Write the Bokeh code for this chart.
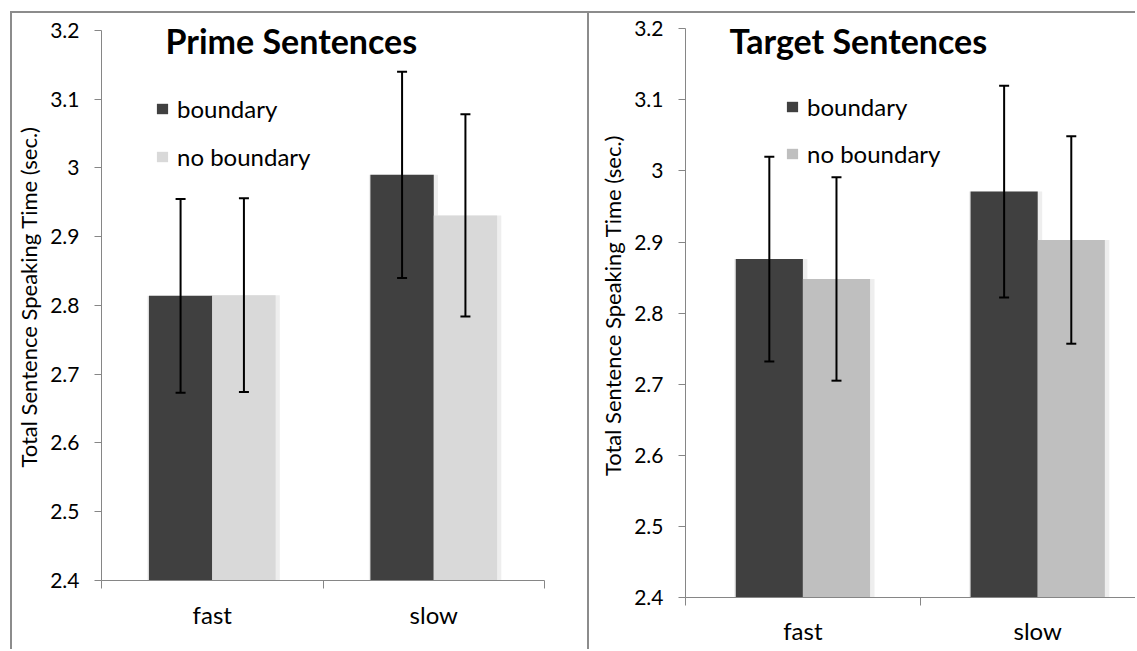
from bokeh.plotting import figure
from bokeh.layouts import row
from bokeh.models import (Range1d, FixedTicker, Whisker, TeeHead, ColumnDataSource,
                          Legend, LegendItem, Label)
from bokeh.embed import file_html
from bokeh.resources import INLINE

# ---------------- data ----------------
categories = ["fast", "slow"]
series = ["boundary", "no boundary"]

prime_boundary = [2.814, 2.990]
prime_boundary_err = [0.141, 0.150]
prime_noboundary = [2.815, 2.931]
prime_noboundary_err = [0.141, 0.147]

target_boundary = [2.876, 2.971]
target_boundary_err = [0.144, 0.149]
target_noboundary = [2.848, 2.903]
target_noboundary_err = [0.143, 0.146]

y_ticks = [2.4, 2.5, 2.6, 2.7, 2.8, 2.9, 3.0, 3.1, 3.2]
y_tick_labels = ["2.4", "2.5", "2.6", "2.7", "2.8", "2.9", "3", "3.1", "3.2"]

titles = ["Prime Sentences", "Target Sentences"]
y_label = "Total Sentence Speaking Time (sec.)"

# ---------------- style ----------------
FONT = "Lato"
DARK = "#404040"
AXIS = "#868686"
FRAME = "#8c8c8c"
BAR_W = 0.286
OFF = 0.143
Y_MIN, Y_MAX = 2.4, 3.2


def panel(title, b_vals, b_err, n_vals, n_err, light, width, height, margin,
          mb_left, mb_right, mb_bottom, x_end, y_end, minor, leg_loc, leg_sp,
          title_xy, tick_standoff):
    # frame reaches a little above 3.2 so the title is not clipped;
    # the axis itself is bounded to 2.4 - 3.2
    p = figure(width=width, height=height, x_range=Range1d(0, x_end),
               y_range=Range1d(Y_MIN, y_end), output_backend="svg",
               toolbar_location=None, min_border_left=mb_left,
               min_border_right=mb_right, min_border_top=0,
               min_border_bottom=mb_bottom, outline_line_color=None,
               background_fill_color="white", border_fill_color="white",
               margin=margin, frame_align=False,
               styles={"border-top": f"2px solid {FRAME}",
                       "border-left": f"2px solid {FRAME}",
                       "box-sizing": "border-box"})
    p.xgrid.visible = False
    p.ygrid.visible = False

    xc = [i + 0.5 for i in range(len(categories))]
    xb = [x - OFF for x in xc]
    xn = [x + OFF for x in xc]

    src_b = ColumnDataSource(dict(x=xb, top=b_vals,
                                  upper=[v + e for v, e in zip(b_vals, b_err)],
                                  lower=[v - e for v, e in zip(b_vals, b_err)],
                                  xs=[x + 0.006 for x in xb]))
    src_n = ColumnDataSource(dict(x=xn, top=n_vals,
                                  upper=[v + e for v, e in zip(n_vals, n_err)],
                                  lower=[v - e for v, e in zip(n_vals, n_err)],
                                  xs=[x + 0.006 for x in xn]))

    # soft shadows behind the bars
    p.vbar(x="xs", top="top", bottom=2.3, width=BAR_W + 0.026, source=src_b,
           fill_color="#eeeeee", line_color=None)
    p.vbar(x="xs", top="top", bottom=2.3, width=BAR_W + 0.026, source=src_n,
           fill_color="#eeeeee", line_color=None)

    rb = p.vbar(x="x", top="top", bottom=2.3, width=BAR_W, source=src_b,
                fill_color=DARK, line_color=None)
    rn = p.vbar(x="x", top="top", bottom=2.3, width=BAR_W, source=src_n,
                fill_color=light, line_color=None)

    for src in (src_b, src_n):
        w = Whisker(base="x", upper="upper", lower="lower", source=src,
                    line_color="black", line_width=2, level="overlay",
                    upper_head=TeeHead(size=10, line_width=2, line_color="black"),
                    lower_head=TeeHead(size=10, line_width=2, line_color="black"))
        p.add_layout(w)

    # y axis
    yax = p.yaxis[0]
    yax.bounds = (Y_MIN, Y_MAX)
    yax.ticker = FixedTicker(ticks=y_ticks)
    yax.major_label_overrides = dict(zip(y_ticks, y_tick_labels))
    yax.axis_line_color = AXIS
    yax.major_tick_line_color = AXIS
    yax.minor_tick_line_color = None
    yax.major_tick_out = 7
    yax.major_tick_in = 0
    yax.major_label_standoff = 15
    yax.major_label_text_font = FONT
    yax.major_label_text_font_size = "21px"
    yax.major_label_text_color = "black"
    yax.axis_label = y_label
    yax.axis_label_text_font = FONT
    yax.axis_label_text_font_size = "22px"
    yax.axis_label_text_font_style = "normal"
    yax.axis_label_text_color = "black"
    yax.axis_label_standoff = 5

    # x axis: labels at category centres, ticks at category borders
    xax = p.xaxis[0]
    xax.ticker = FixedTicker(ticks=xc, minor_ticks=minor)
    xax.major_label_overrides = dict(zip(xc, categories))
    xax.axis_line_color = AXIS
    xax.major_tick_line_color = None
    xax.major_tick_out = 0
    xax.major_tick_in = 0
    xax.minor_tick_line_color = AXIS
    xax.minor_tick_out = 8
    xax.minor_tick_in = 0
    xax.major_label_standoff = tick_standoff
    xax.major_label_text_font = FONT
    xax.major_label_text_font_size = "24px"
    xax.major_label_text_color = "black"

    leg = Legend(items=[LegendItem(label=series[0], renderers=[rb]),
                        LegendItem(label=series[1], renderers=[rn])],
                 location=leg_loc, border_line_color=None,
                 background_fill_alpha=0, padding=0, margin=0, spacing=leg_sp,
                 glyph_width=14, glyph_height=13, label_standoff=8,
                 label_height=26,
                 label_text_font=FONT, label_text_font_size="24px",
                 label_text_color="black")
    p.add_layout(leg)

    p.add_layout(Label(x=title_xy[0], y=title_xy[1], x_units="screen",
                       y_units="screen", text=title, text_font=FONT,
                       text_font_size="34px", text_font_style="bold",
                       text_baseline="alphabetic", text_color="black"))
    return p


p1 = panel(titles[0], prime_boundary, prime_boundary_err, prime_noboundary,
           prime_noboundary_err, "#d9d9d9", 577, 638, (11, 0, 0, 10),
           89, 45, 71, 2.0, 3.2247, [0, 1, 2], (54, 409), 19, (64, 540), 11)
p2 = panel(titles[1], target_boundary, target_boundary_err, target_noboundary,
           target_noboundary_err, "#bfbfbf", 548, 638, (11, 0, 0, 0),
           96, 0, 54, 1.925, 3.2215, [0, 1], (100, 429), 18, (44, 557), 10)

layout = row(p1, p2, spacing=0)
open("out.html", "w").write(file_html(layout, INLINE))
